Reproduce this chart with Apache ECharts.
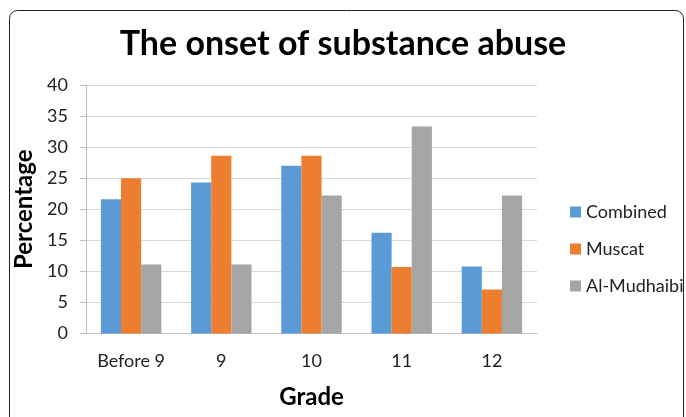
<!DOCTYPE html>
<html><head><meta charset="utf-8">
<script src="https://cdn.jsdelivr.net/npm/echarts@6/dist/echarts.min.js"></script>
<style>html,body{margin:0;padding:0;background:#fff;overflow:hidden}#c{width:686px;height:417px}</style>
</head><body><div id="c"></div>
<script>
const categories = ['Before 9', '9', '10', '11', '12'];
const combined = [21.6, 24.3, 27.0, 16.2, 10.8];
const muscat = [25.0, 28.6, 28.6, 10.7, 7.1];
const alMudhaibi = [11.1, 11.1, 22.2, 33.3, 22.2];
const seriesNames = ['Combined', 'Muscat', 'Al-Mudhaibi'];
const colors = ['#5B9BD5', '#ED7D31', '#A5A5A5'];
const FONT = 'Lato';

const chart = echarts.init(document.getElementById('c'), null, {renderer: 'canvas', width: 686, height: 417});
const mk = (name, data, color) => ({
  name, type: 'bar', data, barGap: '0%', barCategoryGap: '33%',
  itemStyle: {color}, animation: false
});
chart.setOption({
  animation: false,
  textStyle: {fontFamily: FONT},
  title: {
    text: 'The onset of substance abuse', left: 'center', top: 22,
    textStyle: {fontFamily: FONT, fontWeight: 'bold', fontSize: 34, color: '#000'}
  },
  graphic: [{
    type: 'rect', shape: {x: 9.5, y: 10.5, width: 674, height: 430, r: 8},
    style: {fill: 'none', stroke: '#222', lineWidth: 1}, silent: true, z: -1
  }],
  legend: {
    orient: 'vertical', left: 570, top: 203, padding: 0, itemWidth: 11, itemHeight: 11, itemGap: 19,
    icon: 'rect', data: seriesNames,
    textStyle: {fontFamily: FONT, fontSize: 18, color: '#222'}
  },
  grid: {left: 86, top: 85, width: 451, height: 248.5, containLabel: false, outerBoundsMode: 'none'},
  xAxis: {
    type: 'category', data: categories,
    name: 'Grade', nameLocation: 'middle', nameGap: 52,
    nameTextStyle: {fontFamily: FONT, fontWeight: 'bold', fontSize: 24, color: '#000'},
    axisLine: {lineStyle: {color: '#BFBFBF'}},
    axisTick: {show: false},
    axisLabel: {fontFamily: FONT, fontSize: 18, color: '#222', margin: 19}
  },
  yAxis: {
    type: 'value', min: 0, max: 40, interval: 5,
    name: 'Percentage', nameLocation: 'middle', nameGap: 46, nameRotate: 90,
    nameTextStyle: {fontFamily: FONT, fontWeight: 'bold', fontSize: 24, color: '#000'},
    axisLine: {show: true, lineStyle: {color: '#BFBFBF'}},
    axisTick: {show: true, length: 6, lineStyle: {color: '#BFBFBF'}},
    splitLine: {lineStyle: {color: '#D9D9D9'}},
    axisLabel: {fontFamily: FONT, fontSize: 18, color: '#222', margin: 18}
  },
  series: [mk(seriesNames[0], combined, colors[0]), mk(seriesNames[1], muscat, colors[1]), mk(seriesNames[2], alMudhaibi, colors[2])]
});
</script></body></html>
